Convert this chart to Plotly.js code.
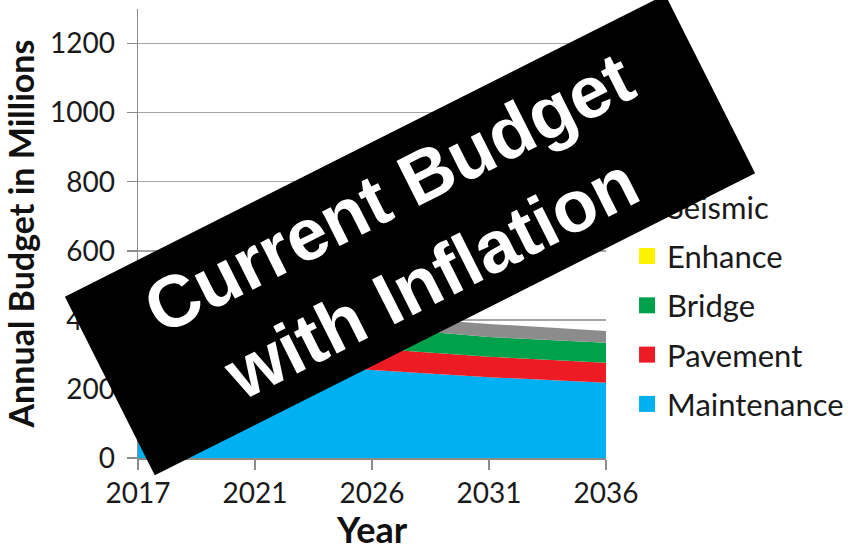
<!DOCTYPE html>
<html>
<head>
<meta charset="utf-8">
<script src="https://cdn.plot.ly/plotly-3.0.1.min.js"></script>
<style>html,body{margin:0;padding:0;background:#fff;}#chart{width:848px;height:551px;}</style>
</head>
<body>
<div id="chart"></div>
<script>
// Data (values in millions)
var years = ['2017', '2021', '2026', '2031', '2036'];
var maintenance = [292, 275, 255, 234, 218];
var pavement = [68, 65, 62, 59, 58];
var bridge = [66, 64, 62, 57, 58];
var enhance = [0, 0, 0, 0, 0];
var seismic = [36, 35, 34, 38, 34];

var seriesNames = ['Maintenance', 'Pavement', 'Bridge', 'Enhance', 'Seismic'];
var seriesValues = [maintenance, pavement, bridge, enhance, seismic];
var seriesColors = ['#00b0f0', '#ed1c24', '#00a14b', '#fff200', '#8c8c8c'];

var yTickVals = [0, 200, 400, 600, 800, 1000, 1200];
var bannerText = 'Current Budget<br>with Inflation';

var traces = [];
// stacked areas
for (var i = 0; i < seriesNames.length; i++) {
  traces.push({
    type: 'scatter', x: years, y: seriesValues[i], name: seriesNames[i],
    stackgroup: 'one', mode: 'none', fillcolor: seriesColors[i],
    showlegend: false, hoverinfo: 'x+y+name'
  });
}
// legend entries (square swatches), top to bottom: Seismic ... Maintenance
for (var j = seriesNames.length - 1; j >= 0; j--) {
  traces.push({
    type: 'scatter', x: [null], y: [null], name: seriesNames[j], mode: 'markers',
    marker: {symbol: 'square', size: 16, color: seriesColors[j]},
    legendgroup: 'g' + j, showlegend: true
  });
}

var tickFont = {family: 'Lato, sans-serif', size: 28, color: '#1a1a1a'};

var layout = {
  width: 848, height: 551,
  margin: {l: 138, r: 242, t: 9, b: 93, autoexpand: false},
  paper_bgcolor: '#ffffff', plot_bgcolor: '#ffffff',
  showlegend: true,
  legend: {
    x: 1.045, xanchor: 'left', y: 0.619, yanchor: 'top',
    font: {family: 'Lato, sans-serif', size: 31, color: '#1a1a1a'},
    traceorder: 'grouped', tracegroupgap: 6, itemwidth: 30,
    bgcolor: 'rgba(0,0,0,0)', borderwidth: 0
  },
  xaxis: {
    type: 'category', range: [0, 4],
    showgrid: false, showline: true, linecolor: '#8c8c8c', linewidth: 1.5,
    ticks: 'outside', ticklen: 10, tickcolor: '#8c8c8c', tickwidth: 1.5,
    tickfont: tickFont, zeroline: false,
    title: {text: 'Year', font: {family: 'Lato, sans-serif', size: 36, color: '#111', weight: 700}, standoff: 8}
  },
  yaxis: {
    range: [0, 1300], tickvals: yTickVals, ticktext: yTickVals.map(String),
    showgrid: true, gridcolor: '#a6a6a6', gridwidth: 1.5,
    showline: true, linecolor: '#8c8c8c', linewidth: 1.5,
    ticks: 'outside', ticklen: 10, tickcolor: '#8c8c8c', tickwidth: 1.5,
    tickfont: tickFont, zeroline: false, ticklabelstandoff: 6,
    title: {text: 'Annual Budget in Millions', font: {family: 'Lato, sans-serif', size: 34, color: '#111', weight: 700}, standoff: 8}
  },
  annotations: [{
    xref: 'paper', yref: 'paper', x: 0.5812, y: 0.4967,
    xanchor: 'center', yanchor: 'middle', showarrow: false,
    text: bannerText, textangle: -26.7,
    width: 672, height: 200, bgcolor: '#000000', borderwidth: 0, borderpad: 0,
    align: 'center', valign: 'middle',
    font: {family: 'Liberation Sans, Arial, sans-serif', size: 73, color: '#ffffff', weight: 700}
  }]
};

Plotly.newPlot('chart', traces, layout, {displayModeBar: false, staticPlot: true});
</script>
</body>
</html>
